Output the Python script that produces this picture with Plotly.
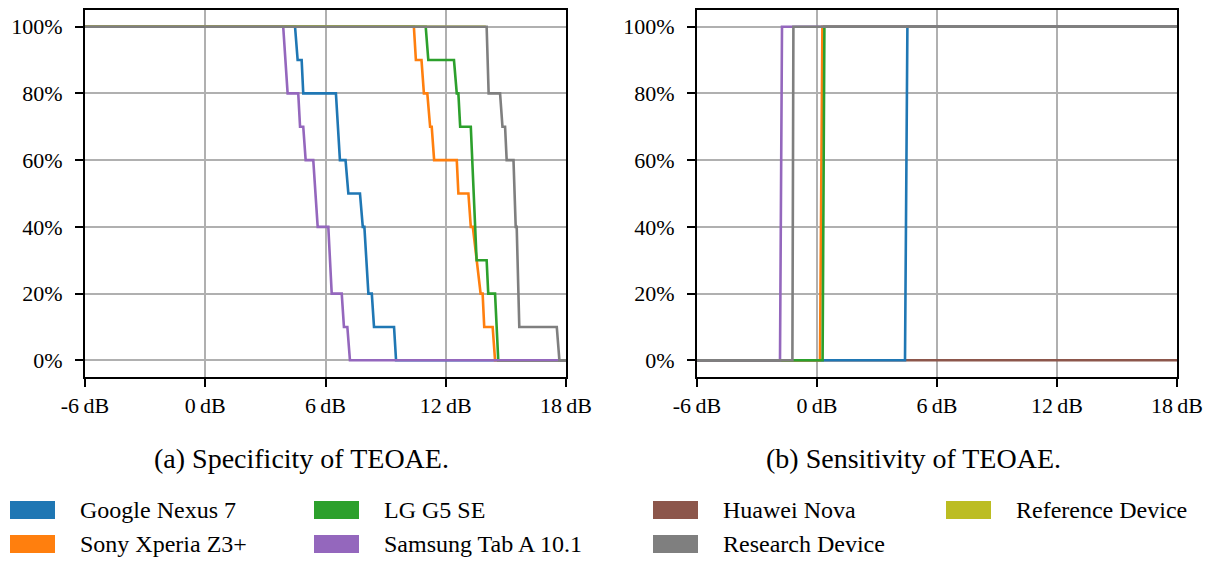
import plotly.graph_objects as go

W, H = 1214, 561
FONT = "Liberation Serif"

# ---- data -----------------------------------------------------------------
# colours per device
colors = {
    "Google Nexus 7": "#1f77b4",
    "Sony Xperia Z3+": "#ff7f0e",
    "LG G5 SE": "#2ca02c",
    "Samsung Tab A 10.1": "#9467bd",
    "Huawei Nova": "#8c564b",
    "Research Device": "#7f7f7f",
    "Reference Device": "#bcbd22",
}

# (a) specificity curves: SNR threshold (dB) vs. share of passes (%)
spec_nexus_x = [-6, 4.48, 4.61, 4.81, 4.89, 6.52, 6.72, 7.00, 7.14, 7.72, 7.86, 7.94, 8.14, 8.31, 8.42, 9.42, 9.52, 18]
spec_nexus_y = [100, 100, 90, 90, 80, 80, 60, 60, 50, 50, 40, 40, 20, 20, 10, 10, 0, 0]

spec_sony_x = [-6, 10.41, 10.51, 10.79, 10.91, 11.08, 11.22, 11.30, 11.42, 12.55, 12.63, 13.13, 13.25, 13.35, 13.74, 13.84, 13.92, 14.34, 14.46, 18]
spec_sony_y = [100, 100, 90, 90, 80, 80, 70, 70, 60, 60, 50, 50, 40, 40, 20, 20, 10, 10, 0, 0]

spec_lg_x = [-6, 11.00, 11.13, 12.41, 12.55, 12.63, 12.72, 13.25, 13.54, 14.04, 14.12, 14.46, 14.62, 18]
spec_lg_y = [100, 100, 90, 90, 80, 80, 70, 70, 30, 30, 20, 20, 0, 0]

spec_samsung_x = [-6, 3.89, 4.11, 4.64, 4.73, 4.89, 5.01, 5.39, 5.61, 6.14, 6.31, 6.81, 6.92, 7.09, 7.22, 18]
spec_samsung_y = [100, 100, 80, 80, 70, 70, 60, 60, 40, 40, 20, 20, 10, 10, 0, 0]

spec_reference_x = [-6, 14.0]
spec_reference_y = [100, 100]

spec_research_x = [-6, 14.04, 14.14, 14.71, 14.83, 14.96, 15.04, 15.38, 15.49, 15.54, 15.67, 17.54, 17.67, 18]
spec_research_y = [100, 100, 80, 80, 70, 70, 60, 60, 40, 40, 10, 10, 0, 0]

# (b) sensitivity curves
sens_huawei_x = [-6, 18]
sens_huawei_y = [0, 0]

sens_nexus_x = [-6, 4.40, 4.52, 18]
sens_nexus_y = [0, 0, 100, 100]

sens_sony_x = [-6, 0.15, 0.27, 18]
sens_sony_y = [0, 0, 100, 100]

sens_lg_x = [-6, 0.28, 0.37, 18]
sens_lg_y = [0, 0, 100, 100]

sens_samsung_x = [-6, -1.85, -1.75, 18]
sens_samsung_y = [0, 0, 100, 100]

sens_research_x = [-6, -1.23, -1.18, 18]
sens_research_y = [0, 0, 100, 100]

x_ticks = [-6, 0, 6, 12, 18]
x_tick_labels = ["-6\u2009dB", "0\u2009dB", "6\u2009dB", "12\u2009dB", "18\u2009dB"]
y_ticks = [0, 20, 40, 60, 80, 100]
y_tick_labels = ["0%", "20%", "40%", "60%", "80%", "100%"]

captions = ["(a) Specificity of TEOAE.", "(b) Sensitivity of TEOAE."]

# legend layout: columns of (device, device)
legend_columns = [
    ["Google Nexus 7", "Sony Xperia Z3+"],
    ["LG G5 SE", "Samsung Tab A 10.1"],
    ["Huawei Nova", "Research Device"],
    ["Reference Device"],
]

# ---- figure ---------------------------------------------------------------
fig = go.Figure()

spec_series = [
    ("Google Nexus 7", spec_nexus_x, spec_nexus_y),
    ("Sony Xperia Z3+", spec_sony_x, spec_sony_y),
    ("LG G5 SE", spec_lg_x, spec_lg_y),
    ("Samsung Tab A 10.1", spec_samsung_x, spec_samsung_y),
    ("Reference Device", spec_reference_x, spec_reference_y),
    ("Research Device", spec_research_x, spec_research_y),
]
sens_series = [
    ("Huawei Nova", sens_huawei_x, sens_huawei_y),
    ("Google Nexus 7", sens_nexus_x, sens_nexus_y),
    ("Sony Xperia Z3+", sens_sony_x, sens_sony_y),
    ("LG G5 SE", sens_lg_x, sens_lg_y),
    ("Samsung Tab A 10.1", sens_samsung_x, sens_samsung_y),
    ("Research Device", sens_research_x, sens_research_y),
]

for name, xs, ys in spec_series:
    fig.add_trace(go.Scatter(x=xs, y=ys, mode="lines", name=name,
                             line=dict(color=colors[name], width=2.6),
                             xaxis="x", yaxis="y", showlegend=False))
for name, xs, ys in sens_series:
    fig.add_trace(go.Scatter(x=xs, y=ys, mode="lines", name=name,
                             line=dict(color=colors[name], width=2.6),
                             xaxis="x2", yaxis="y2", showlegend=False))

# plot areas in pixels
left_px = (85, 566)
right_px = (697, 1177)
top_px, bottom_px = 10, 377


def px_x(p):
    return p / W


def px_y(p):
    return 1 - p / H


axis_common = dict(
    showline=True, linecolor="black", linewidth=2, mirror=True,
    ticks="outside", ticklen=8, tickwidth=2, tickcolor="black",
    showgrid=True, gridcolor="#b0b0b0", gridwidth=1.5,
    zeroline=False, automargin=False,
    tickfont=dict(family=FONT, size=22, color="black"),
)

xcfg = dict(axis_common, range=[-6, 18], tickmode="array",
            tickvals=x_ticks, ticktext=x_tick_labels)
ycfg = dict(axis_common, range=[-5, 105], tickmode="array",
            tickvals=y_ticks, ticktext=y_tick_labels, ticklabelstandoff=8)

fig.update_layout(
    width=W, height=H,
    margin=dict(l=0, r=0, t=0, b=0, autoexpand=False),
    paper_bgcolor="white", plot_bgcolor="white",
    xaxis=dict(xcfg, domain=[px_x(left_px[0]), px_x(left_px[1])], anchor="y"),
    yaxis=dict(ycfg, domain=[px_y(bottom_px), px_y(top_px)], anchor="x"),
    xaxis2=dict(xcfg, domain=[px_x(right_px[0]), px_x(right_px[1])], anchor="y2"),
    yaxis2=dict(ycfg, domain=[px_y(bottom_px), px_y(top_px)], anchor="x2"),
    showlegend=False,
)

annotations = []
# sub-figure captions
for cx, text in zip((301, 913), captions):
    annotations.append(dict(x=px_x(cx), y=px_y(458), xref="paper", yref="paper",
                            text=text, showarrow=False, xanchor="center", yanchor="middle",
                            font=dict(family=FONT, size=28, color="black")))

# legend: coloured patches with labels
shapes = []
col_left = [10, 314, 653, 946]
row_center = [510, 544]
patch_w, patch_h = 45, 18
text_offset = 68
for cx, names in zip(col_left, legend_columns):
    for ry, name in zip(row_center, names):
        shapes.append(dict(type="rect", xref="paper", yref="paper",
                           x0=px_x(cx), x1=px_x(cx + patch_w),
                           y0=px_y(ry + patch_h / 2), y1=px_y(ry - patch_h / 2),
                           fillcolor=colors[name], line=dict(width=0)))
        annotations.append(dict(x=px_x(cx + text_offset), y=px_y(ry), xref="paper", yref="paper",
                                text=name, showarrow=False, xanchor="left", yanchor="middle",
                                font=dict(family=FONT, size=24, color="black")))

fig.update_layout(annotations=annotations, shapes=shapes)

fig.write_html("out.html")
